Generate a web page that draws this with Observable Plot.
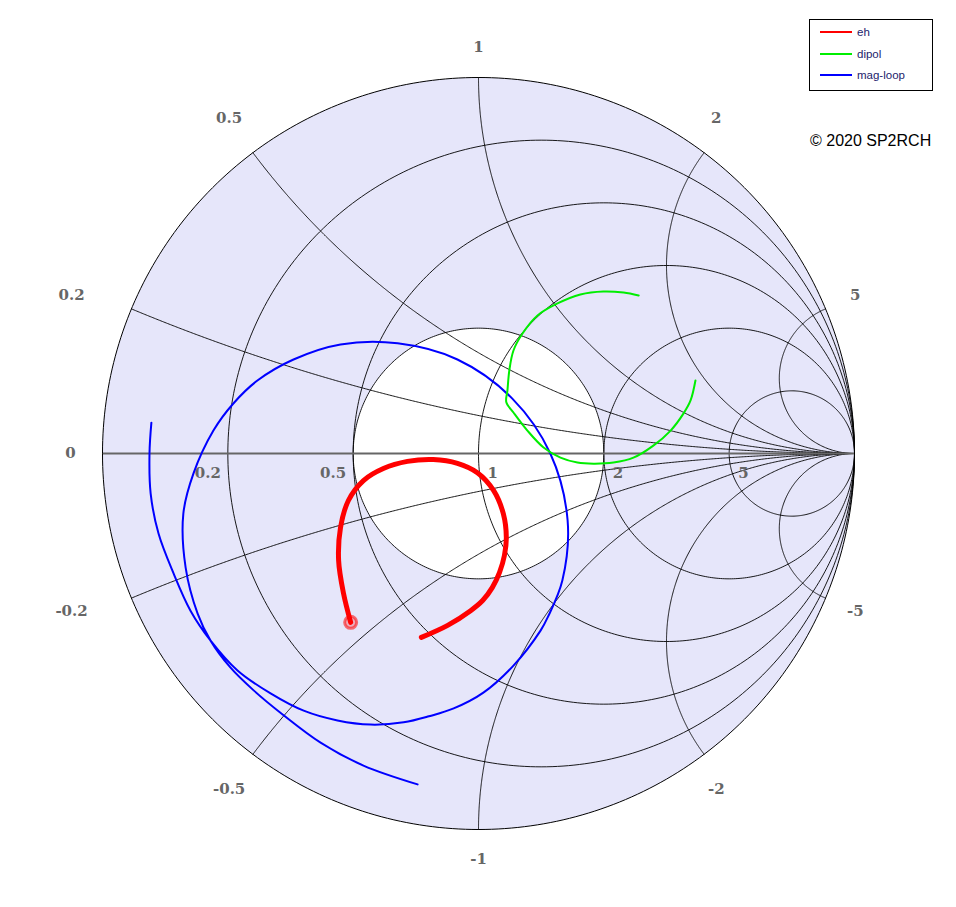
<!DOCTYPE html>
<html><head><meta charset="utf-8">
<script src="https://cdn.jsdelivr.net/npm/d3@7"></script>
<script src="https://cdn.jsdelivr.net/npm/@observablehq/plot@0.6"></script>
<style>
body{margin:0;background:#fff;}
#wrap{position:relative;width:956px;height:907px;}
#legend{position:absolute;left:809px;top:19px;width:122px;height:70px;border:1px solid #000;background:#fff;font:11.5px 'Liberation Sans',Arial,sans-serif;color:#1c1c6c;}
.item{position:absolute;left:10px;height:14px;display:flex;align-items:center;white-space:nowrap;}
.swatch{width:32px;height:2px;margin-right:5px;}
#credit{position:absolute;left:810px;top:132px;font:16px 'Liberation Sans',Arial,sans-serif;color:#000;white-space:nowrap;}
</style></head>
<body><div id="wrap"></div>
<script>
// grid ticks
const realTicks = [0.2, 0.5, 1, 2, 5];
const imagTicks = [0, 0.2, 0.5, 1, 2, 5, -0.2, -0.5, -1, -2, -5];

// series: reflection coefficient (real, imag)
const seriesNames = ["eh", "dipol", "mag-loop"];
const seriesColors = ["#ff0000", "#00ee00", "#0000ff"];

const ehRe = [-0.340,-0.359,-0.372,-0.367,-0.346,-0.306,-0.253,-0.189,-0.120,-0.056,-0.003,0.040,0.066,0.074,0.069,0.056,0.037,0.011,-0.021,-0.082,-0.152];
const ehIm = [-0.449,-0.372,-0.285,-0.197,-0.125,-0.072,-0.040,-0.021,-0.016,-0.026,-0.051,-0.098,-0.160,-0.223,-0.271,-0.316,-0.356,-0.391,-0.418,-0.457,-0.489];

const dipolRe = [0.426,0.386,0.332,0.271,0.210,0.157,0.117,0.093,0.082,0.077,0.074,0.093,0.130,0.173,0.218,0.263,0.306,0.359,0.412,0.465,0.511,0.545,0.564,0.577];
const dipolIm = [0.420,0.428,0.431,0.423,0.399,0.367,0.319,0.274,0.221,0.168,0.136,0.109,0.061,0.016,-0.011,-0.024,-0.027,-0.024,-0.011,0.021,0.061,0.106,0.141,0.194];

const loopRe = [-0.870,-0.875,-0.872,-0.851,-0.811,-0.766,-0.713,-0.641,-0.553,-0.465,-0.375,-0.287,-0.199,-0.132,-0.066,0.013,0.093,0.165,0.184,0.223,0.237,0.191,0.090,-0.056,-0.215,-0.367,-0.492,-0.588,-0.652,-0.705,-0.758,-0.785,-0.779,-0.747,-0.713,-0.660,-0.598,-0.521,-0.420,-0.306,-0.162];
const loopIm = [0.082,0.000,-0.106,-0.213,-0.319,-0.418,-0.497,-0.577,-0.638,-0.684,-0.710,-0.721,-0.715,-0.699,-0.678,-0.636,-0.564,-0.471,-0.436,-0.338,-0.178,0.000,0.146,0.250,0.293,0.290,0.250,0.194,0.133,0.061,-0.053,-0.160,-0.303,-0.426,-0.497,-0.569,-0.630,-0.694,-0.769,-0.830,-0.880];

// ---------- build ----------
const toPts = (re, im, name) => re.map((v, i) => ({x: v, y: im[i], s: name}));
const eh = toPts(ehRe, ehIm, "eh");
const dipol = toPts(dipolRe, dipolIm, "dipol");
const loop = toPts(loopRe, loopIm, "mag-loop");

const X0 = 102, X1 = 854, Y0 = 829, Y1 = 77;
const R_PX = (X1 - X0) / 2;

function gamma(r, x) { const d = (r + 1) ** 2 + x * x; return [(r * r + x * x - 1) / d, 2 * x / d]; }
const circle = (cx, cy, rad, g) => d3.range(0, 361, 1).map(a => ({g, x: cx + rad * Math.cos(a * Math.PI / 180), y: cy + rad * Math.sin(a * Math.PI / 180)}));

const unit = circle(0, 0, 1, "u");
const vswr = circle(0, 0, 1 / 3, "v");
const gridR = realTicks.flatMap(r => circle(r / (1 + r), 0, 1 / (1 + r), r));
const gridX = imagTicks.filter(v => v !== 0).flatMap(xv =>
  d3.range(0, 1.00001, 0.002).map(s => {
    const [gx, gy] = s >= 1 ? [1, 0] : gamma(s / (1 - s), xv);
    return {g: xv, x: gx, y: gy};
  }));

const FONT_SIZE = 15;
const ctx = document.createElement("canvas").getContext("2d");
ctx.font = `bold ${FONT_SIZE}px "DejaVu Serif"`;
const imagLabels = imagTicks.map(v => {
  const [ex, ey] = v === 0 ? [-1, 0] : gamma(0, v);
  const th = Math.atan2(ey, ex);
  const label = String(v);
  const w = ctx.measureText(label.replace("-", "")).width;
  const c = Math.abs(Math.cos(th)), s2 = Math.abs(Math.sin(2 * th));
  const D = 406;
  const dy = 14 * s2 ** 6 * Math.sign(Math.sin(th));
  const dx = c > 0.8 ? Math.sign(Math.cos(th)) * (2 + Math.min(31, Math.max(0, w - 11) * 2)) : -6 * s2;
  return {x: (D * Math.cos(th) + dx) / R_PX, y: (D * Math.sin(th) + dy) / R_PX, label};
});
const realLabels = realTicks.map(r => ({x: (r - 1) / (r + 1), y: 0, label: String(r), r}));

const labelStyle = {fontFamily: "'DejaVu Serif', serif", fontWeight: "bold", fontSize: FONT_SIZE, fill: "#666"};

const chart = Plot.plot({
  width: 956, height: 907, margin: 0,
  style: {background: "#fff", overflow: "visible"},
  x: {domain: [-1, 1], range: [X0, X1], axis: null},
  y: {domain: [-1, 1], range: [Y0, Y1], axis: null},
  marks: [
    Plot.line(unit, {x: "x", y: "y", fill: "#e6e6fa", stroke: "none"}),
    Plot.line(vswr, {x: "x", y: "y", fill: "#ffffff", stroke: "#000", strokeWidth: 0.9}),
    Plot.line(gridR, {x: "x", y: "y", z: "g", stroke: "#000", strokeWidth: 0.9}),
    Plot.line(gridX, {x: "x", y: "y", z: "g", stroke: "#000", strokeWidth: 0.9}),
    Plot.ruleY([0], {x1: -1, x2: 1, stroke: "#666", strokeWidth: 2}),
    Plot.line(unit, {x: "x", y: "y", stroke: "#000", strokeWidth: 1}),
    Plot.text(realLabels.filter(d => d.r < 1), {x: "x", y: "y", text: "label", textAnchor: "end", dx: -7, dy: 20, ...labelStyle}),
    Plot.text(realLabels.filter(d => d.r >= 1), {x: "x", y: "y", text: "label", textAnchor: "start", dx: 9, dy: 20, ...labelStyle}),
    Plot.text(imagLabels, {x: "x", y: "y", text: "label", textAnchor: "middle", ...labelStyle}),
    Plot.line(loop, {x: "x", y: "y", stroke: seriesColors[2], strokeWidth: 2, curve: "catmull-rom"}),
    Plot.line(dipol, {x: "x", y: "y", stroke: seriesColors[1], strokeWidth: 2, curve: "catmull-rom"}),
    Plot.line(eh, {x: "x", y: "y", stroke: seriesColors[0], strokeWidth: 5, curve: "catmull-rom"}),
    Plot.dot([eh[0]], {x: "x", y: "y", r: 6, stroke: seriesColors[0], strokeWidth: 3, strokeOpacity: 0.55, fill: "#ff0000", fillOpacity: 0.25})
  ]
});

const wrap = document.getElementById("wrap");
wrap.appendChild(chart);

const legend = document.createElement("div");
legend.id = "legend";
seriesNames.forEach((n, i) => {
  const it = document.createElement("div");
  it.className = "item";
  it.style.top = (5 + i * 21.7) + "px";
  it.innerHTML = `<span class="swatch" style="background:${seriesColors[i]}"></span><span>${n}</span>`;
  legend.appendChild(it);
});
wrap.appendChild(legend);

const credit = document.createElement("div");
credit.id = "credit";
credit.textContent = "© 2020 SP2RCH";
wrap.appendChild(credit);
</script>
</body></html>
